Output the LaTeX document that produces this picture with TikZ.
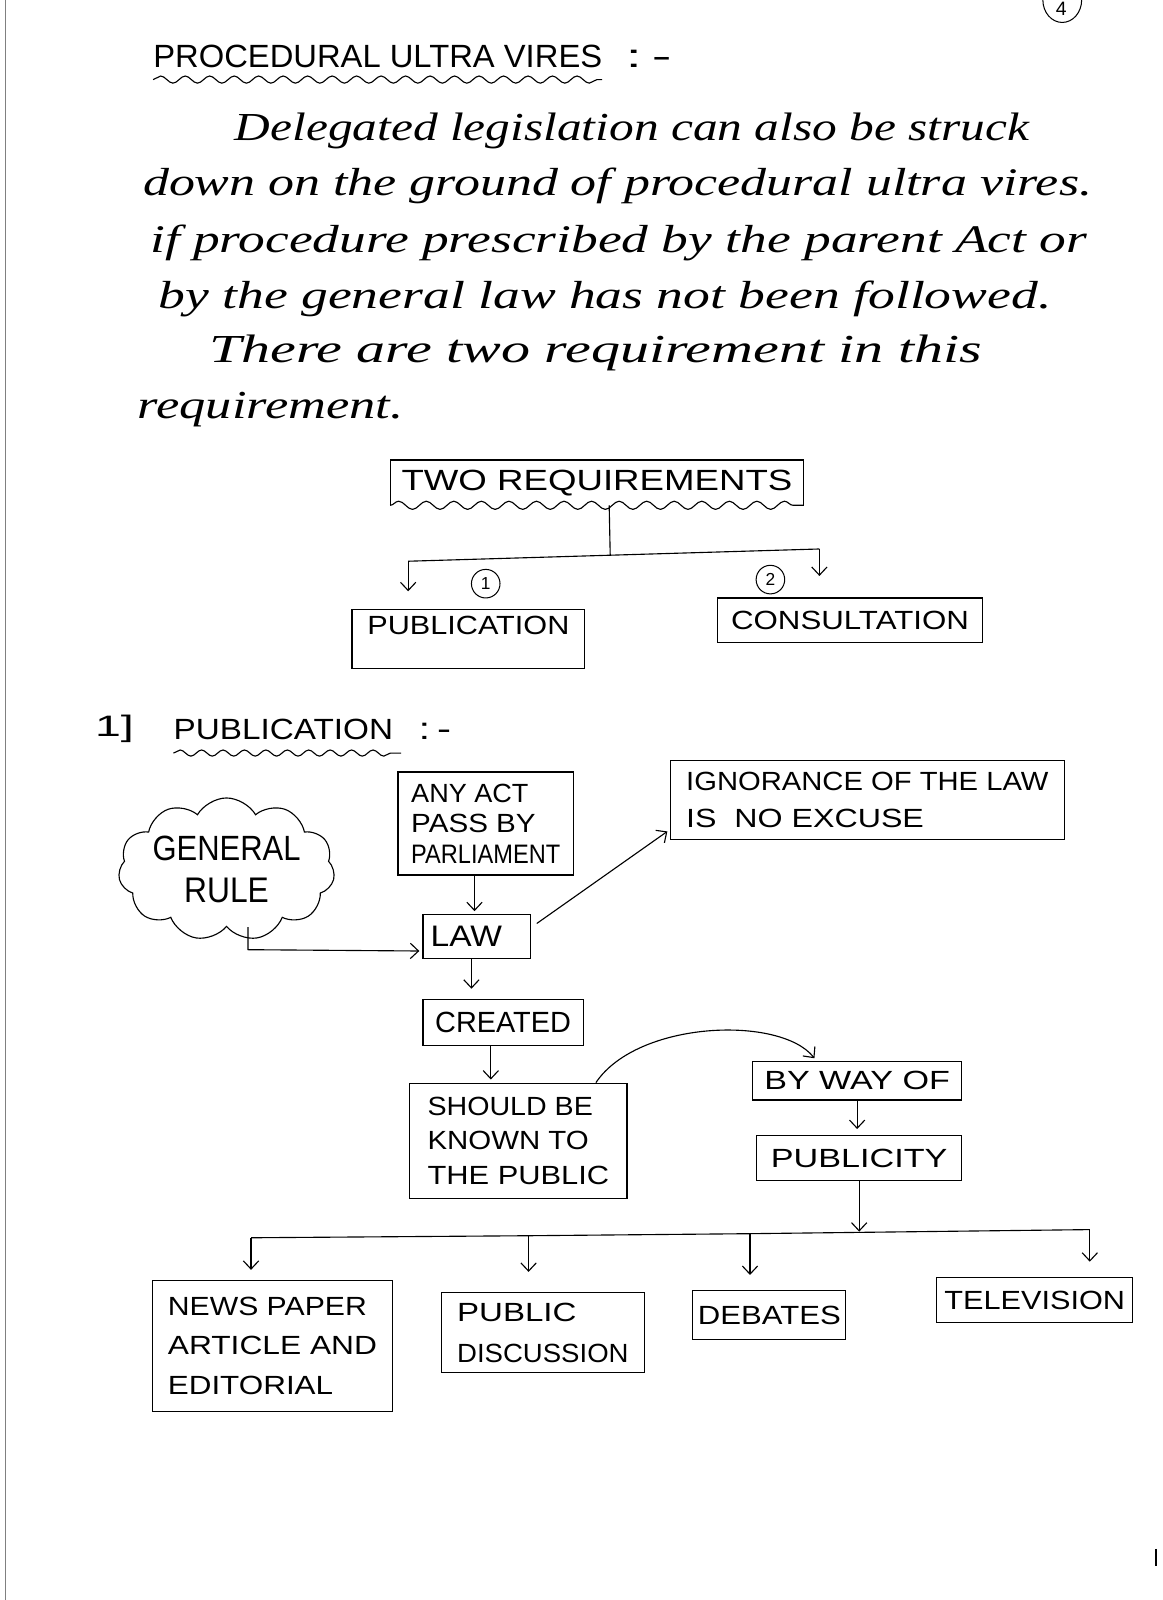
\documentclass[tikz,border=0pt]{standalone}
\usepackage{fontspec}
\usetikzlibrary{arrows.meta,shapes.symbols,shapes.geometric,decorations.pathmorphing}
\newfontfamily\labf{Liberation Sans}
\newfontfamily\handf{Liberation Serif}
\newcommand\cw[3][18]{\resizebox{#2pt}{#1pt}{\labf #3}}
\newcommand\hw[2]{\resizebox{#1pt}{27pt}{\handf\itshape\vphantom{lD}#2}}
\begin{document}
\begin{tikzpicture}[x=1pt,y=-1pt,
 box/.style={draw, line width=1.1pt, inner sep=0pt, align=left, font=\fontsize{12}{30}\selectfont},
 arr/.style={line width=1.1pt, -{Straight Barb[length=8pt,width=15pt]}, shorten >=3pt},
 ln/.style={line width=1.1pt},
 wavy/.style={line width=1.1pt, decorate, decoration={snake, amplitude=3.5pt, segment length=24pt}},
 txt/.style={inner sep=0pt, anchor=base west},
 num/.style={draw, circle, line width=1pt, inner sep=0pt, minimum size=28pt, font=\labf\fontsize{17}{17}\selectfont}]
\fill[white] (0,0) rectangle (1139,1568);
\useasboundingbox (0,0) rectangle (1139,1568);
\draw[gray, line width=1pt] (5,0) -- (5,1568);
\draw[line width=1.5pt] (1133,1518) -- (1133,1535);
\node[draw, ellipse, line width=1pt, minimum width=38pt, minimum height=44pt, inner sep=0pt] (pg) at (1041,0) {};
\node[inner sep=0pt, font=\labf\fontsize{19}{19}\selectfont] (pgn) at (1040,9) {4};
% title
\node[txt] (title) at (150,66) {\cw[22]{440}{PROCEDURAL ULTRA VIRES}};
\node[txt] (tc) at (613,66) {\cw[17]{45}{:\,-}};
\draw[wavy] (150,78) -- (590,78);
% paragraph
\node[txt] (p1) at (230,138) {\hw{778}{Delegated legislation can also be struck}};
\node[txt] (p2) at (140,192) {\hw{930}{down on the ground of procedural ultra vires.}};
\node[txt] (p3) at (147,247) {\hw{918}{if procedure prescribed by the parent Act or}};
\node[txt] (p4) at (155,302) {\hw{875}{by the general law has not been followed.}};
\node[txt] (p5) at (205,355) {\hw{757}{There are two requirement in this}};
\node[txt] (p6) at (135,410) {\hw{260}{requirement.}};
% two requirements
\node[inner sep=0pt, minimum width=405pt, minimum height=44pt] (two) at (585,473) {\cw[20]{383}{TWO REQUIREMENTS}};
\draw[ln] (two.south west) -- (two.north west) -- (two.north east) -- (two.south east);
\draw[wavy, decoration={snake, amplitude=4pt, segment length=27pt}] (two.south west) -- (two.south east);
\node[box, minimum width=228pt, minimum height=58pt] (pub1) at (459,626) {\raisebox{26pt}{\cw{198}{PUBLICATION}}};
\node[box, minimum width=259pt, minimum height=44pt] (cons) at (833,608) {\cw{233}{CONSULTATION}};
\node[num] (n1) at (476,572) {1};
\node[num] (n2) at (755,568) {2};
\coordinate (s1) at (598,544);
\coordinate (jL) at (400,550);
\coordinate (jR) at (803,538);
\draw[ln] ([xshift=12pt]two.south) -- (s1);
\draw[ln] (jL) -- (jR);
\draw[arr, shorten >=17pt] (jL) -- (jL |- pub1.north);
\draw[arr, shorten >=21pt] (jR) -- (jR |- cons.north);
% section 1]
\node[txt] (h1) at (93,722) {\cw[21]{38}{1]}};
\node[txt] (h2) at (170,725) {\cw[20]{215}{PUBLICATION}};
\node[txt] (h3) at (410,725) {\cw[16]{32}{:\,-}};
\draw[wavy, decoration={snake, amplitude=3pt, segment length=21pt}] (170,738) -- (393,738);
\node[draw, cloud, cloud puffs=11, cloud puff arc=120, cloud ignores aspect, line width=1.1pt, minimum width=190pt, minimum height=140pt, inner sep=0pt, align=center, font=\fontsize{12}{42}\selectfont] (gr) at (222,852) {\cw[24]{145}{GENERAL}\\\cw[24]{83}{RULE}};
\node[box, minimum width=172pt, minimum height=101pt, font=\fontsize{12}{30}\selectfont] (anyact) at (476,807) {\cw{115}{ANY ACT}\\\cw{122}{PASS BY}\\\cw{146}{PARLIAMENT}};
\node[box, minimum width=386pt, minimum height=77pt, font=\fontsize{12}{36}\selectfont] (ign) at (850,784) {\cw{355}{IGNORANCE OF THE LAW}\\\cw{233}{IS\ \ NO EXCUSE}};
\node[box, minimum width=105pt, minimum height=43pt] (law) at (467,918) {\cw[20]{70}{LAW}\hspace{20pt}};
\node[box, minimum width=157pt, minimum height=45pt] (created) at (493,1002) {\cw[20]{133}{CREATED}};
\node[box, minimum width=213pt, minimum height=113pt, font=\fontsize{12}{34}\selectfont] (should) at (508,1118) {\cw{162}{SHOULD BE}\\\cw{158}{KNOWN TO}\\\cw{178}{THE PUBLIC}};
\node[box, minimum width=205pt, minimum height=38pt] (byway) at (840,1059) {\cw{182}{BY WAY OF}};
\node[box, minimum width=201pt, minimum height=44pt] (publicity) at (842,1135) {\cw{173}{PUBLICITY}};
\node[box, minimum width=235pt, minimum height=128pt, font=\fontsize{12}{39}\selectfont] (news) at (267,1319) {\cw{195}{NEWS PAPER}\\\cw{205}{ARTICLE AND}\\\cw{162}{EDITORIAL}};
\node[box, minimum width=199pt, minimum height=78pt, font=\fontsize{12}{40}\selectfont] (pubdisc) at (532,1306) {\cw{117}{PUBLIC}\\\cw{168}{DISCUSSION}};
\node[box, minimum width=150pt, minimum height=48pt] (debates) at (754,1289) {\cw{140}{DEBATES}};
\node[box, minimum width=192pt, minimum height=44pt] (tv) at (1014,1274) {\cw{177}{TELEVISION}};
% connectors
\draw[arr] ([xshift=-11pt]anyact.south) -- ([xshift=-2pt]law.north);
\draw[arr] ([xshift=21pt]gr.south) -- ++(0,22) -- ([yshift=-14pt]law.west);
\draw[arr] ([xshift=6pt,yshift=13pt]law.east) -- ([yshift=10pt]ign.south west);
\draw[arr, shorten >=10pt] ([xshift=-5pt]law.south) -- ([xshift=-31pt]created.north);
\draw[arr] ([xshift=-12pt]created.south) -- ([xshift=-27pt]should.north);
\draw[arr] ([xshift=76pt]should.north) .. controls (625,1000) and (765,995) .. ([xshift=-40pt]byway.north);
\draw[arr, shorten >=6pt] (byway.south) -- (byway.south |- publicity.north);
\coordinate (bm) at (842,1207);
\coordinate (b1) at (246,1213);
\coordinate (b2) at (518,1211);
\coordinate (b3) at (735,1209);
\coordinate (b4) at (1068,1205);
\draw[arr, shorten >=0pt] (publicity.south) -- (bm);
\draw[ln] (b1) -- (b2) -- (b3) -- (b4);
\draw[arr, shorten >=10pt] (b1) -- (b1 |- news.north);
\draw[arr, shorten >=20pt] (b2) -- (b2 |- pubdisc.north);
\draw[arr, shorten >=15pt] (b3) -- (b3 |- debates.north);
\draw[arr, shorten >=15pt] (b4) -- (b4 |- tv.north);
\end{tikzpicture}
\end{document}
